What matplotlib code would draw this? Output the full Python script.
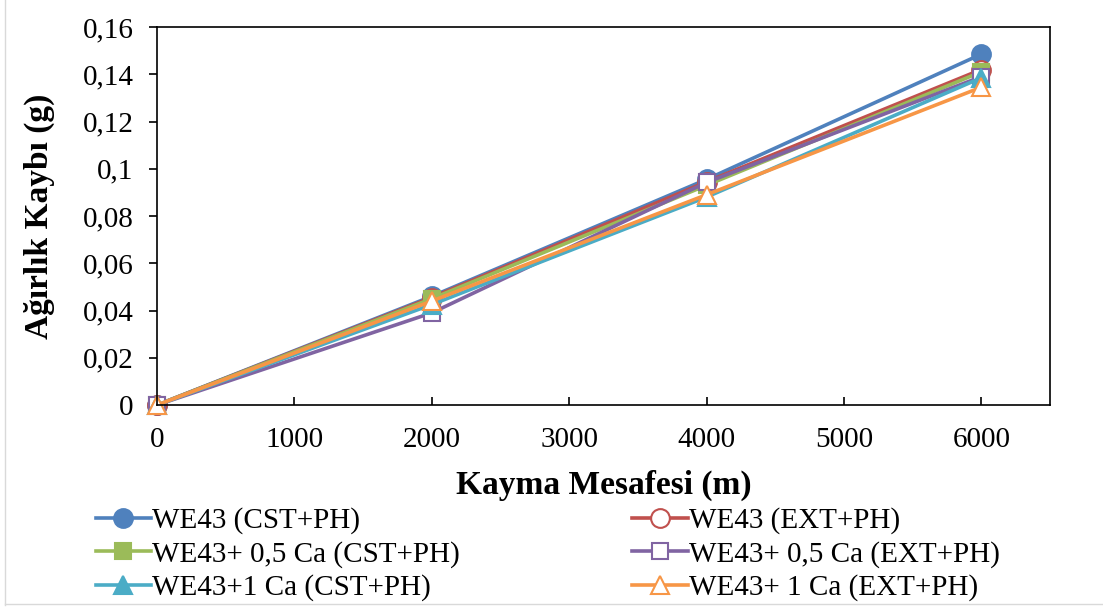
import matplotlib
matplotlib.use("Agg")
import matplotlib.pyplot as plt
from matplotlib.lines import Line2D

plt.rcParams['font.family'] = ['Liberation Serif', 'DejaVu Serif']

distance = [0, 2000, 4000, 6000]

labels = [
    "WE43 (CST+PH)",
    "WE43 (EXT+PH)",
    "WE43+ 0,5 Ca (CST+PH)",
    "WE43+ 0,5 Ca (EXT+PH)",
    "WE43+1 Ca (CST+PH)",
    "WE43+ 1 Ca (EXT+PH)",
]

we43_cst = [0, 0.0460, 0.0955, 0.1485]
we43_ext = [0, 0.0455, 0.0945, 0.1420]
we43_05ca_cst = [0, 0.0450, 0.0930, 0.1410]
we43_05ca_ext = [0, 0.0390, 0.0942, 0.1390]
we43_1ca_cst = [0, 0.0425, 0.0880, 0.1385]
we43_1ca_ext = [0, 0.0440, 0.0890, 0.1345]

series = [we43_cst, we43_ext, we43_05ca_cst, we43_05ca_ext, we43_1ca_cst, we43_1ca_ext]
colors = ["#4F81BD", "#C0504D", "#9BBB59", "#8064A2", "#4BACC6", "#F79646"]
markers = ["o", "o", "s", "s", "^", "^"]
filled = [True, False, True, False, True, False]
msizes = [13.5, 13.5, 12, 12, 13, 13]

y_ticks = [0, 0.02, 0.04, 0.06, 0.08, 0.1, 0.12, 0.14, 0.16]
y_tick_labels = ["0", "0,02", "0,04", "0,06", "0,08", "0,1", "0,12", "0,14", "0,16"]
x_ticks = [0, 1000, 2000, 3000, 4000, 5000, 6000]
x_tick_labels = ["0", "1000", "2000", "3000", "4000", "5000", "6000"]

fig = plt.figure(figsize=(11.03, 6.08), dpi=100)
ax = fig.add_axes([157 / 1103, 1 - 405 / 608, (1050 - 157) / 1103, (405 - 27) / 608])

handles = []
for vals, col, mk, fl, ms, lab in zip(series, colors, markers, filled, msizes, labels):
    (h,) = ax.plot(
        distance, vals, color=col, lw=2.6, marker=mk, markersize=ms,
        markerfacecolor=col if fl else "white", markeredgecolor=col,
        markeredgewidth=1.5, clip_on=False, label=lab,
    )
    handles.append(h)

ax.set_xlim(0, 6500)
ax.set_ylim(0, 0.16)
ax.set_xticks(x_ticks)
ax.set_xticklabels(x_tick_labels)
ax.set_yticks(y_ticks)
ax.set_yticklabels(y_tick_labels)
ax.tick_params(axis="x", direction="in", length=6, width=1.2, pad=16, labelsize=21)
ax.tick_params(axis="y", direction="out", length=6, width=1.2, pad=11, labelsize=21)
for sp in ax.spines.values():
    sp.set_linewidth(1.2)
    sp.set_color("black")

ax.set_xlabel("Kayma Mesafesi (m)", fontsize=24, fontweight="bold", labelpad=12)
ax.set_ylabel("Ağırlık Kaybı (g)", fontsize=24, fontweight="bold", labelpad=20)

# two-column legend below the axes; entries listed row by row
order = [0, 2, 4, 1, 3, 5]
leg = fig.legend(
    [handles[i] for i in order], [labels[i] for i in order],
    ncol=2, loc="upper left", bbox_to_anchor=(78 / 1103, 1 - 490 / 608),
    frameon=False, fontsize=21, handlelength=1.9, handletextpad=0.05,
    labelspacing=0.22, columnspacing=5.9, borderpad=0.1,
)

# faint outer border of the image
fig.add_artist(Line2D([5 / 1103, 5 / 1103], [3 / 608, 1], transform=fig.transFigure, color="#d9d9d9", lw=1))
fig.add_artist(Line2D([5 / 1103, 1], [4 / 608, 4 / 608], transform=fig.transFigure, color="#d9d9d9", lw=1))

fig.savefig("out.png", dpi=100)
